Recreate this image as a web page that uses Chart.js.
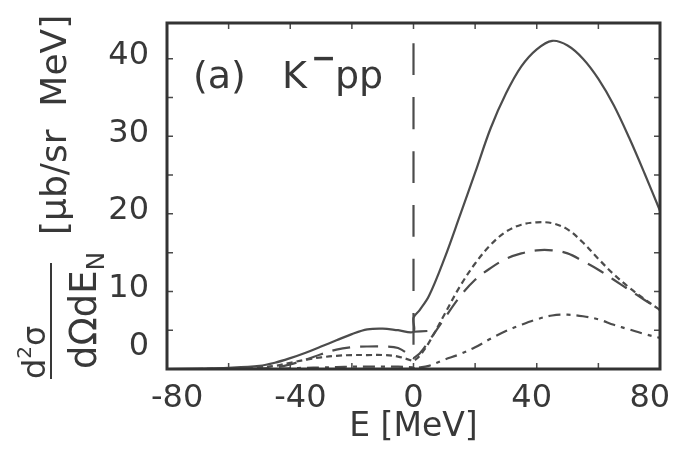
<!DOCTYPE html>
<html>
<head>
<meta charset="utf-8">
<script src="https://cdn.jsdelivr.net/npm/chart.js@4.4.0/dist/chart.umd.min.js"></script>
<style>
  html, body { margin: 0; padding: 0; background: #fff; }
  canvas { display: block; }
</style>
</head>
<body>
<canvas id="spectrum" width="674" height="449"></canvas>
<script>
// energy grid (MeV), split at the threshold so the solid curve can jump there
const energyBelow = [-80, -70, -60, -50, -45, -40, -35, -30, -25, -20, -15, -10, -5, 0];
const energyAbove = [0, 2, 5, 10, 15, 20, 25, 30, 35, 40, 45, 50, 55, 60, 65, 70, 75, 80];

const solidBelow = [0, 0.05, 0.15, 0.4, 0.8, 1.4, 2.1, 2.9, 3.7, 4.5, 5.1, 5.2, 5.0, 4.8];
const solidAbove = [6.6, 7.6, 9.4, 14.2, 19.7, 25.3, 31.0, 35.5, 39.0, 41.2, 42.3, 41.7, 40.0, 37.4, 34.0, 29.8, 25.2, 20.4];

const shortDashBelow = [0, 0, 0.05, 0.2, 0.4, 0.8, 1.2, 1.5, 1.7, 1.8, 1.8, 1.8, 1.6, 1.0];
const shortDashAbove = [1.0, 1.7, 3.4, 7.0, 10.6, 13.6, 16.0, 17.7, 18.6, 18.9, 18.8, 18.0, 16.3, 14.2, 12.2, 10.5, 9.0, 7.6];

const longDashBelow = [0, 0, 0, 0.05, 0.2, 0.6, 1.2, 1.9, 2.5, 2.8, 2.9, 2.9, 2.7, 1.4];
const longDashAbove = [1.4, 2.0, 3.6, 6.5, 9.3, 11.5, 13.0, 14.2, 14.9, 15.3, 15.3, 14.9, 13.9, 12.8, 11.5, 10.2, 8.9, 7.6];

const dashDotBelow = [0, 0, 0, 0, 0, 0.1, 0.15, 0.2, 0.25, 0.3, 0.3, 0.3, 0.3, 0.2];
const dashDotAbove = [0.2, 0.2, 0.4, 1.2, 1.9, 2.8, 3.9, 4.9, 5.7, 6.4, 6.9, 7.0, 6.8, 6.4, 5.7, 5.1, 4.5, 4.0];

// short flat piece of the solid curve just past threshold
const stubEnergy = [0, 4.5];
const stubValues = [4.8, 4.9];

// vertical threshold marker at E = 0
const thresholdEnergy = [0, 0];
const thresholdValues = [44.6, 0];

const xTickValues = [-80, -60, -40, -20, 0, 20, 40, 60, 80];
const yTickValues = [0, 5, 10, 15, 20, 25, 30, 35, 40];

const lineColor = "#4c4c4c";
const textColor = "#383838";
const fontFamily = '"DejaVu Sans", Verdana, sans-serif';

function pairs(xs, ys) {
	return xs.map((x, i) => ({ x: x, y: ys[i] }));
}

function curve(xs, ys, dash, dashOffset) {
	return {
		data: pairs(xs, ys),
		showLine: true,
		borderColor: lineColor,
		borderWidth: 2.2,
		borderDash: dash,
		borderDashOffset: dashOffset || 0,
		pointRadius: 0,
		tension: 0.35,
		fill: false,
	};
}

// frame, inward tick marks, panel label and the fraction-style y title
const decorations = {
	id: "decorations",
	afterDraw(chart) {
		const ctx = chart.ctx;
		const area = chart.chartArea;
		const xs = chart.scales.x;
		const ys = chart.scales.y;

		ctx.save();
		ctx.strokeStyle = "#4a4a4a";
		ctx.lineWidth = 1.5;
		xTickValues.forEach((v) => {
			const px = xs.getPixelForValue(v);
			ctx.beginPath();
			ctx.moveTo(px, area.bottom);
			ctx.lineTo(px, area.bottom - 6);
			ctx.moveTo(px, area.top);
			ctx.lineTo(px, area.top + 6);
			ctx.stroke();
		});
		yTickValues.forEach((v) => {
			const py = ys.getPixelForValue(v);
			ctx.beginPath();
			ctx.moveTo(area.left, py);
			ctx.lineTo(area.left + 6, py);
			ctx.moveTo(area.right, py);
			ctx.lineTo(area.right - 6, py);
			ctx.stroke();
		});

		ctx.strokeStyle = "#333";
		ctx.lineWidth = 3;
		ctx.strokeRect(area.left, area.top, area.right - area.left, area.bottom - area.top);

		// panel label
		ctx.fillStyle = textColor;
		ctx.textBaseline = "alphabetic";
		ctx.textAlign = "left";
		ctx.font = "38px " + fontFamily;
		ctx.fillText("(a)", 193, 88);
		ctx.fillText("K", 282, 88);
		ctx.fillText("pp", 335, 88);
		ctx.font = "bold 30px " + fontFamily;
		ctx.fillText("\u2212", 311, 68);

		// rotated y title: local x = up the page, local y = to the right
		ctx.translate(0, chart.height);
		ctx.rotate(-Math.PI / 2);
		ctx.font = "32px " + fontFamily;
		let lx = 70;
		ctx.fillText("d", lx, 45);
		lx += ctx.measureText("d").width;
		ctx.font = "20px " + fontFamily;
		ctx.fillText("2", lx, 31);
		lx += ctx.measureText("2").width;
		ctx.font = "32px " + fontFamily;
		ctx.fillText("\u03c3", lx, 45);

		ctx.strokeStyle = textColor;
		ctx.lineWidth = 2;
		ctx.beginPath();
		ctx.moveTo(70, 51);
		ctx.lineTo(186, 51);
		ctx.stroke();

		ctx.font = "37px " + fontFamily;
		lx = 80;
		ctx.fillText("d\u03a9dE", lx, 96);
		lx += ctx.measureText("d\u03a9dE").width;
		ctx.font = "25px " + fontFamily;
		ctx.fillText("N", lx, 104);

		ctx.font = "36px " + fontFamily;
		ctx.fillText("[\u03bcb/sr  MeV]", 214, 66);
		ctx.restore();
	},
};

new Chart(document.getElementById("spectrum").getContext("2d"), {
	type: "scatter",
	data: {
		datasets: [
			curve(thresholdEnergy, thresholdValues, [32, 22], 34),
			curve(energyBelow.concat(energyAbove), dashDotBelow.concat(dashDotAbove), [12, 6, 4, 6]),
			curve(energyBelow.concat(energyAbove), longDashBelow.concat(longDashAbove), [18, 10]),
			curve(energyBelow.concat(energyAbove), shortDashBelow.concat(shortDashAbove), [6, 4]),
			curve(stubEnergy, stubValues, []),
			curve(energyBelow.concat(energyAbove), solidBelow.concat(solidAbove), []),
		],
	},
	options: {
		responsive: false,
		devicePixelRatio: 1,
		animation: false,
		layout: { padding: { top: 23, right: 14, left: 0, bottom: 0 } },
		plugins: {
			legend: { display: false },
			tooltip: { enabled: false },
		},
		scales: {
			x: {
				type: "linear",
				min: -80,
				max: 80,
				grid: { display: false },
				border: { display: false },
				afterBuildTicks: (scale) => {
					scale.ticks = xTickValues.map((v) => ({ value: v }));
				},
				afterFit: (scale) => {
					scale.height = 80;
					scale.paddingLeft = 0;
					scale.paddingRight = 0;
				},
				ticks: {
					autoSkip: false,
					maxRotation: 0,
					padding: 2,
					color: textColor,
					font: { family: fontFamily, size: 32 },
					callback: function (value) {
						if (value % 40 !== 0) return "";
						if (value < 0) return "  " + value;
						if (value === 40) return value + " ";
						if (value === 80) return value + "  ";
						return String(value);
					},
				},
				title: {
					display: true,
					text: "E [MeV]",
					color: textColor,
					font: { family: fontFamily, size: 33 },
					padding: { top: 0, bottom: 2 },
				},
			},
			y: {
				type: "linear",
				min: 0,
				max: 44.6,
				grid: { display: false },
				border: { display: false },
				afterBuildTicks: (scale) => {
					scale.ticks = yTickValues.map((v) => ({ value: v }));
				},
				afterFit: (scale) => {
					scale.width = 167;
					scale.paddingTop = 0;
					scale.paddingBottom = 0;
				},
				ticks: {
					autoSkip: false,
					padding: 10,
					labelOffset: -3,
					color: textColor,
					font: { family: fontFamily, size: 32 },
					callback: function (value) {
						if (value % 10 !== 0) return "";
						if (value === 0) return ["0", ""];
						return String(value);
					},
				},
			},
		},
	},
	plugins: [decorations],
});
</script>
</body>
</html>
